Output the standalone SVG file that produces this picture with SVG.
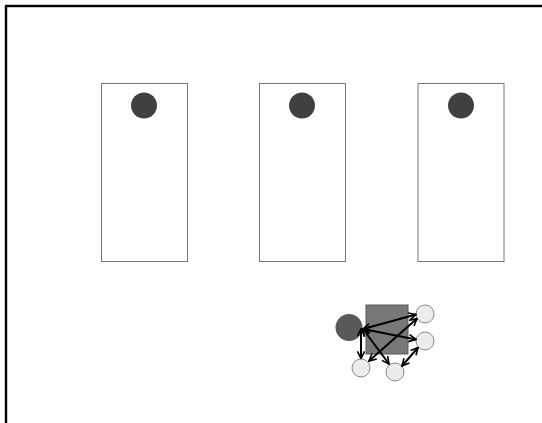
<svg xmlns="http://www.w3.org/2000/svg" width="542" height="423" viewBox="0 0 542 423">
<style>
.card{fill:#fff;stroke:#777;stroke-width:1}
.dot{fill:#404040}
.lc{fill:#ececec;stroke:#888;stroke-width:1}
.ln{stroke:#000;stroke-width:2;fill:none;marker-end:url(#ah);marker-start:url(#ahs)}
</style>
<defs>
<marker id="ah" viewBox="0 0 10 10" refX="9" refY="5" markerWidth="4.5" markerHeight="4.5" orient="auto" markerUnits="strokeWidth">
<path d="M1,1 L9,5 L1,9" fill="none" stroke="#000" stroke-width="1.8"/>
</marker>
<marker id="ahs" viewBox="0 0 10 10" refX="1" refY="5" markerWidth="4.5" markerHeight="4.5" orient="auto" markerUnits="strokeWidth">
<path d="M9,1 L1,5 L9,9" fill="none" stroke="#000" stroke-width="1.8"/>
</marker>
</defs>
<rect x="6" y="6" width="545" height="430" fill="#fff" stroke="#000" stroke-width="2.4"/>
<g id="card1"><rect class="card" x="101.5" y="83.5" width="86" height="178"/><circle class="dot" cx="144" cy="105.5" r="13"/></g>
<g id="card2"><rect class="card" x="259.5" y="83.5" width="86" height="178"/><circle class="dot" cx="302" cy="105.5" r="13"/></g>
<g id="card3"><rect class="card" x="418" y="83.5" width="86" height="178"/><circle class="dot" cx="461" cy="105.5" r="13"/></g>
<g id="square"><rect x="366" y="305" width="42" height="49" fill="#787878" stroke="#5a5a5a" stroke-width="1"/></g>
<g id="source"><circle cx="349" cy="327.5" r="13.5" fill="#595959"/></g>
<g id="nodeT"><circle class="lc" cx="425" cy="314" r="9"/></g>
<g id="nodeM"><circle class="lc" cx="425" cy="341" r="9"/></g>
<g id="nodeB"><circle class="lc" cx="395" cy="372" r="9"/></g>
<g id="nodeL"><circle class="lc" cx="361" cy="368" r="9"/></g>
<g id="connectors">
<line class="ln" x1="363" y1="329" x2="416" y2="314.5"/>
<line class="ln" x1="363" y1="329" x2="416" y2="339.5"/>
<line class="ln" x1="363" y1="329" x2="389" y2="364"/>
<line class="ln" x1="361" y1="329" x2="361" y2="358.5"/>
<line class="ln" x1="369" y1="361" x2="417" y2="318.5"/>
<line class="ln" x1="402" y1="366" x2="418" y2="347.5"/>
</g>
</svg>
